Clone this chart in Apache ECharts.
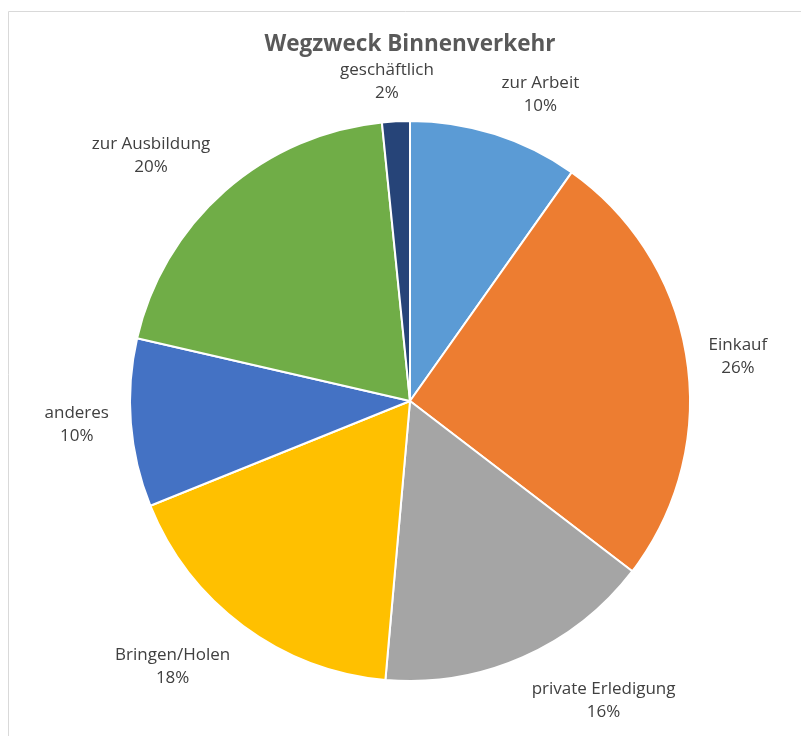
<!DOCTYPE html>
<html>
<head>
<meta charset="utf-8">
<title>Wegzweck Binnenverkehr</title>
<script src="https://cdn.jsdelivr.net/npm/echarts@6/dist/echarts.min.js"></script>
<style>
  html, body { margin: 0; padding: 0; background: #fff; }
  #chart { width: 801px; height: 736px; }
</style>
</head>
<body>
<div id="chart"></div>
<script>
// Daten (im Uhrzeigersinn ab 12 Uhr)
var categories = ['zur Arbeit', 'Einkauf', 'private Erledigung', 'Bringen/Holen', 'anderes', 'zur Ausbildung', 'geschäftlich'];
var shares = [9.8, 25.6, 16.0, 17.5, 9.7, 19.8, 1.6];
var colors = ['#5B9BD5', '#ED7D31', '#A5A5A5', '#FFC000', '#4472C4', '#70AD47', '#264478'];

var cx = 410, cy = 401, radius = 280, gap = 22;

var total = shares.reduce(function (a, b) { return a + b; }, 0);
// Mittelwinkel je Segment (Grad, von oben im Uhrzeigersinn)
var midAngles = [];
var acc = 0;
shares.forEach(function (v) {
  midAngles.push((acc + v / 2) / total * 360);
  acc += v;
});

function clamp01(v) { return Math.max(0, Math.min(1, v)); }

var chart = echarts.init(document.getElementById('chart'));
var option = {
  animation: false,
  title: {
    text: 'Wegzweck Binnenverkehr',
    left: 405,
    top: 28,
    textAlign: 'center',
    textStyle: { fontFamily: 'Open Sans', fontWeight: 'bold', fontSize: 22.5, color: '#595959' }
  },
  graphic: [{
    type: 'rect',
    shape: { x: 8.5, y: 11.5, width: 820, height: 760 },
    style: { fill: null, stroke: '#D9D9D9', lineWidth: 1 },
    silent: true
  }],
  series: [{
    type: 'pie',
    center: [cx, cy],
    radius: radius,
    startAngle: 90,
    clockwise: true,
    data: categories.map(function (c, i) {
      return { name: c, value: shares[i], itemStyle: { color: colors[i] } };
    }),
    itemStyle: { borderColor: '#fff', borderWidth: 2 },
    label: {
      show: true,
      position: 'outside',
      alignTo: 'none',
      overflow: 'none',
      formatter: function (p) { return p.name + '\n' + Math.round(p.percent) + '%'; },
      fontFamily: 'Open Sans',
      fontSize: 17,
      lineHeight: 23,
      color: '#404040',
      align: 'center'
    },
    labelLine: { show: false },
    // Ankerpunkt ausserhalb des Kreises, naechste Ecke des Textblocks liegt darauf (wie Excel)
    labelLayout: function (p) {
      var a = midAngles[p.dataIndex] * Math.PI / 180;
      var s = Math.sin(a), c = Math.cos(a);
      var w = p.labelRect.width, h = p.labelRect.height;
      var ax = cx + s * (radius + gap);
      var ay = cy - c * (radius + gap - (c > 0 ? 5 : 0));
      var fx = clamp01(Math.abs(s) / 0.3);
      var fy = clamp01((Math.abs(c) - 0.15) / 0.3);
      return {
        x: ax + Math.sign(s) * fx * w / 2,
        y: ay - Math.sign(c) * fy * h / 2,
        align: 'center',
        verticalAlign: 'middle'
      };
    }
  }]
};
chart.setOption(option);
</script>
</body>
</html>
